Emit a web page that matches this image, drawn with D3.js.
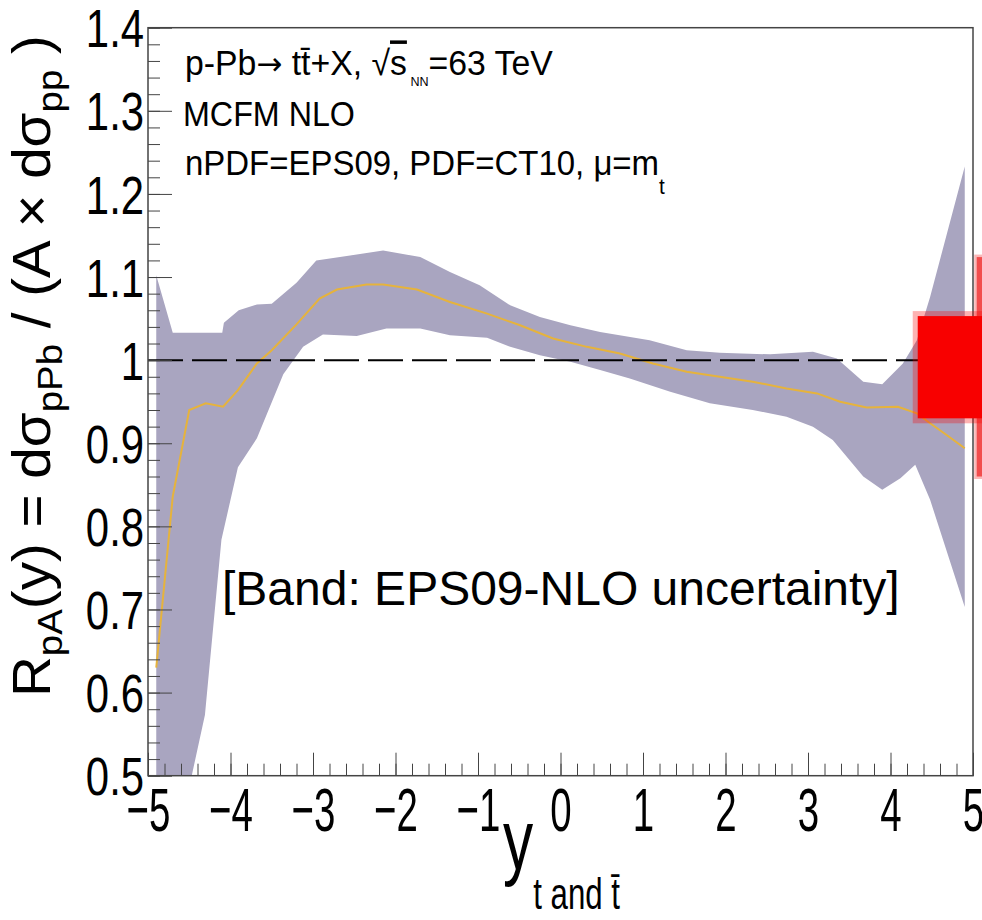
<!DOCTYPE html>
<html>
<head>
<meta charset="utf-8">
<script src="https://cdn.jsdelivr.net/npm/d3@7"></script>
<style>
  body { margin: 0; background: #fff; }
  svg { display: block; }
  text { font-family: "Liberation Sans", Arial, sans-serif; }
</style>
</head>
<body>
<div id="chart"></div>
<script>
// EPS09 uncertainty band, upper edge
const upperX = [-4.9, -4.7, -4.1, -4.08, -3.9, -3.68, -3.5, -3.2, -2.96, -2.55, -2.15, -1.7, -1.34, -0.98, -0.61, -0.25, 0.12, 0.48, 1.08, 1.53, 1.93, 2.54, 3.06, 3.35, 3.67, 3.9, 4.15, 4.32, 4.48, 4.9];
const upperY = [1.102, 1.033, 1.033, 1.045, 1.060, 1.067, 1.068, 1.093, 1.120, 1.126, 1.132, 1.124, 1.106, 1.090, 1.066, 1.052, 1.042, 1.034, 1.024, 1.012, 1.009, 1.007, 1.010, 1.002, 0.974, 0.971, 0.996, 1.024, 1.076, 1.233];

// lower edge
const lowerX = [-4.9, -4.47, -4.31, -4.11, -3.91, -3.68, -3.36, -3.12, -2.88, -2.47, -2.11, -1.7, -1.34, -0.89, -0.61, -0.25, 0.12, 0.48, 0.84, 1.33, 1.81, 2.33, 2.74, 3.06, 3.3, 3.67, 3.9, 4.12, 4.3, 4.48, 4.9];
const lowerY = [0.25, 0.50, 0.573, 0.784, 0.871, 0.906, 0.983, 1.016, 1.031, 1.029, 1.038, 1.038, 1.030, 1.027, 1.016, 1.006, 0.998, 0.988, 0.978, 0.962, 0.948, 0.940, 0.932, 0.920, 0.904, 0.860, 0.844, 0.858, 0.874, 0.832, 0.703];

// central value
const centralX = [-4.9, -4.7, -4.5, -4.3, -4.09, -3.91, -3.68, -3.5, -3.2, -2.92, -2.71, -2.35, -2.15, -1.74, -1.34, -0.89, -0.49, -0.09, 0.32, 0.72, 1.12, 1.53, 1.93, 2.33, 2.74, 3.11, 3.39, 3.71, 4.09, 4.32, 4.48, 4.68, 4.9];
const centralY = [0.63, 0.836, 0.940, 0.948, 0.944, 0.964, 0.996, 1.012, 1.043, 1.074, 1.085, 1.091, 1.091, 1.085, 1.070, 1.056, 1.042, 1.026, 1.016, 1.008, 0.996, 0.986, 0.980, 0.974, 0.966, 0.960, 0.950, 0.943, 0.944, 0.936, 0.924, 0.910, 0.894];

// red boxes at the right edge
const redBoxX = [4.33, 5.8];
const redBoxY = [0.930, 1.053];
const redBarX = [5.045, 5.6];
const redBarY = [0.860, 1.124];

const xTickValues = [-5, -4, -3, -2, -1, 0, 1, 2, 3, 4, 5];
const xTickLabels = ["\u22125", "\u22124", "\u22123", "\u22122", "\u22121", "0", "1", "2", "3", "4", "5"];
const yTickValues = [0.5, 0.6, 0.7, 0.8, 0.9, 1.0, 1.1, 1.2, 1.3, 1.4];
const yTickLabels = ["0.5", "0.6", "0.7", "0.8", "0.9", "1", "1.1", "1.2", "1.3", "1.4"];

const width = 982;
const height = 920;
const margin = { top: 27.7, right: 9, bottom: 144.3, left: 148 };

const svg = d3.select("#chart")
  .append("svg")
  .attr("width", width)
  .attr("height", height);

svg.append("rect").attr("width", width).attr("height", height).attr("fill", "#fff");

const x = d3.scaleLinear()
  .domain([-5, 5])
  .range([margin.left, width - margin.right]);

const y = d3.scaleLinear()
  .domain([0.5, 1.4])
  .range([height - margin.bottom, margin.top]);

svg.append("clipPath")
  .attr("id", "plot-clip")
  .append("rect")
  .attr("x", x(-5))
  .attr("y", y(1.4))
  .attr("width", x(5) - x(-5))
  .attr("height", y(0.5) - y(1.4));

const plot = svg.append("g").attr("clip-path", "url(#plot-clip)");

// band
const bandPts = upperX.map((d, i) => [x(d), y(upperY[i])])
  .concat(lowerX.map((d, i) => [x(d), y(lowerY[i])]).reverse());

plot.append("path")
  .attr("d", d3.line()(bandPts) + "Z")
  .attr("fill", "#a9a5c0");

// central curve
const line = d3.line()
  .x(d => x(d[0]))
  .y(d => y(d[1]));

plot.append("path")
  .datum(centralX.map((d, i) => [d, centralY[i]]))
  .attr("fill", "none")
  .attr("stroke", "#e6b33c")
  .attr("stroke-width", 2)
  .attr("d", line);

// reference line at 1
plot.append("line")
  .attr("x1", x(-5))
  .attr("x2", x(5))
  .attr("y1", y(1))
  .attr("y2", y(1))
  .attr("stroke", "#000")
  .attr("stroke-width", 2)
  .attr("stroke-dasharray", "35,9");

// axes
const xAxis = svg.append("g")
  .attr("transform", `translate(0, ${y(0.5)})`)
  .attr("color", "#444")
  .call(d3.axisBottom(x).tickValues(xTickValues).tickSize(-23).tickPadding(11)
    .tickFormat((d, i) => xTickLabels[i]));
xAxis.select(".domain").remove();
xAxis.selectAll("text")
  .attr("fill", "#000")
  .attr("font-size", 62)
  .attr("font-family", "Liberation Sans, Arial, sans-serif")
  .attr("transform", "scale(0.62,1)");

const xMinor = svg.append("g")
  .attr("transform", `translate(0, ${y(0.5)})`)
  .attr("color", "#444")
  .call(d3.axisBottom(x).tickValues(d3.range(-5, 5.001, 0.2)).tickSize(-12).tickFormat(""));
xMinor.select(".domain").remove();

const yAxis = svg.append("g")
  .attr("transform", `translate(${x(-5)}, 0)`)
  .attr("color", "#444")
  .call(d3.axisLeft(y).tickValues(yTickValues).tickSize(-24).tickPadding(5)
    .tickFormat((d, i) => yTickLabels[i]));
yAxis.select(".domain").remove();
yAxis.selectAll("text")
  .attr("fill", "#000")
  .attr("font-size", 53)
  .attr("font-family", "Liberation Sans, Arial, sans-serif")
  .attr("dy", "0.36em")
  .attr("transform", "scale(0.79,1)");

const yMinor = svg.append("g")
  .attr("transform", `translate(${x(-5)}, 0)`)
  .attr("color", "#444")
  .call(d3.axisLeft(y).tickValues(d3.range(0.5, 1.4001, 0.02)).tickSize(-12).tickFormat(""));
yMinor.select(".domain").remove();

// frame
svg.append("rect")
  .attr("x", x(-5))
  .attr("y", y(1.4))
  .attr("width", x(5) - x(-5))
  .attr("height", y(0.5) - y(1.4))
  .attr("fill", "none")
  .attr("stroke", "#444")
  .attr("stroke-width", 1.5);

// red boxes
svg.append("rect")
  .attr("x", x(redBarX[0]))
  .attr("y", y(redBarY[1]))
  .attr("width", x(redBarX[1]) - x(redBarX[0]))
  .attr("height", y(redBarY[0]) - y(redBarY[1]))
  .attr("fill", "#f24d4d")
  .attr("stroke", "rgba(242,77,77,0.4)")
  .attr("stroke-width", 5);

svg.append("rect")
  .attr("x", x(redBoxX[0]))
  .attr("y", y(redBoxY[1]))
  .attr("width", x(redBoxX[1]) - x(redBoxX[0]))
  .attr("height", y(redBoxY[0]) - y(redBoxY[1]))
  .attr("fill", "#f80000")
  .attr("stroke", "rgba(248,0,0,0.3)")
  .attr("stroke-width", 10);

// helper: squeeze a text to a target width
function fitGroup(g, t, target, tx, ty, rot) {
  const len = t.node().getComputedTextLength();
  const s = target / len;
  g.attr("transform", `translate(${tx},${ty})` + (rot ? ` rotate(${rot})` : "") + ` scale(${s},1)`);
}

// y-axis title
{
  const g = svg.append("g");
  const t = g.append("text").attr("font-size", 53).attr("fill", "#000");
  t.append("tspan").text("R");
  t.append("tspan").attr("font-size", 36).attr("dy", 12).text("pA");
  t.append("tspan").attr("dy", -12).text("(y) = d\u03c3");
  t.append("tspan").attr("font-size", 36).attr("dy", 12).text("pPb");
  t.append("tspan").attr("dy", -12).text(" / (A \u00d7 d\u03c3");
  t.append("tspan").attr("font-size", 36).attr("dy", 12).text("pp");
  t.append("tspan").attr("dy", -12).text(" )");
  fitGroup(g, t, 662, 50, 697, -90);
}

// x-axis title
{
  const g = svg.append("g");
  const t = g.append("text").attr("font-size", 85).attr("fill", "#000");
  t.append("tspan").text("y");
  t.append("tspan").attr("font-size", 44).attr("dy", 40).text("t and t\u0304");
  fitGroup(g, t, 117, 503, 869);
}

// annotations
{
  const g = svg.append("g");
  const t = g.append("text").attr("font-size", 35).attr("fill", "#000");
  t.append("tspan").text("p-Pb");
  t.append("tspan").attr("font-family", "DejaVu Sans").attr("font-size", 32).text("\u2192");
  t.append("tspan").text(" tt\u0304+X,  \u221a");
  t.append("tspan").style("text-decoration", "overline").text("s");
  t.append("tspan").attr("font-size", 13).attr("dy", 11).text(" NN");
  t.append("tspan").attr("dy", -11).text("=63 TeV");
  fitGroup(g, t, 368, 185, 75);
}
{
  const g = svg.append("g");
  const t = g.append("text").attr("font-size", 35).attr("fill", "#000").text("MCFM NLO");
  fitGroup(g, t, 172, 183, 126);
}
{
  const g = svg.append("g");
  const t = g.append("text").attr("font-size", 35).attr("fill", "#000");
  t.append("tspan").text("nPDF=EPS09, PDF=CT10, \u03bc=m");
  t.append("tspan").attr("font-size", 22).attr("dy", 19).text("t");
  fitGroup(g, t, 480, 185, 175);
}

svg.append("text")
  .attr("x", 222)
  .attr("y", 605)
  .attr("font-size", 48)
  .attr("fill", "#000")
  .text("[Band: EPS09-NLO uncertainty]");
</script>
</body>
</html>
